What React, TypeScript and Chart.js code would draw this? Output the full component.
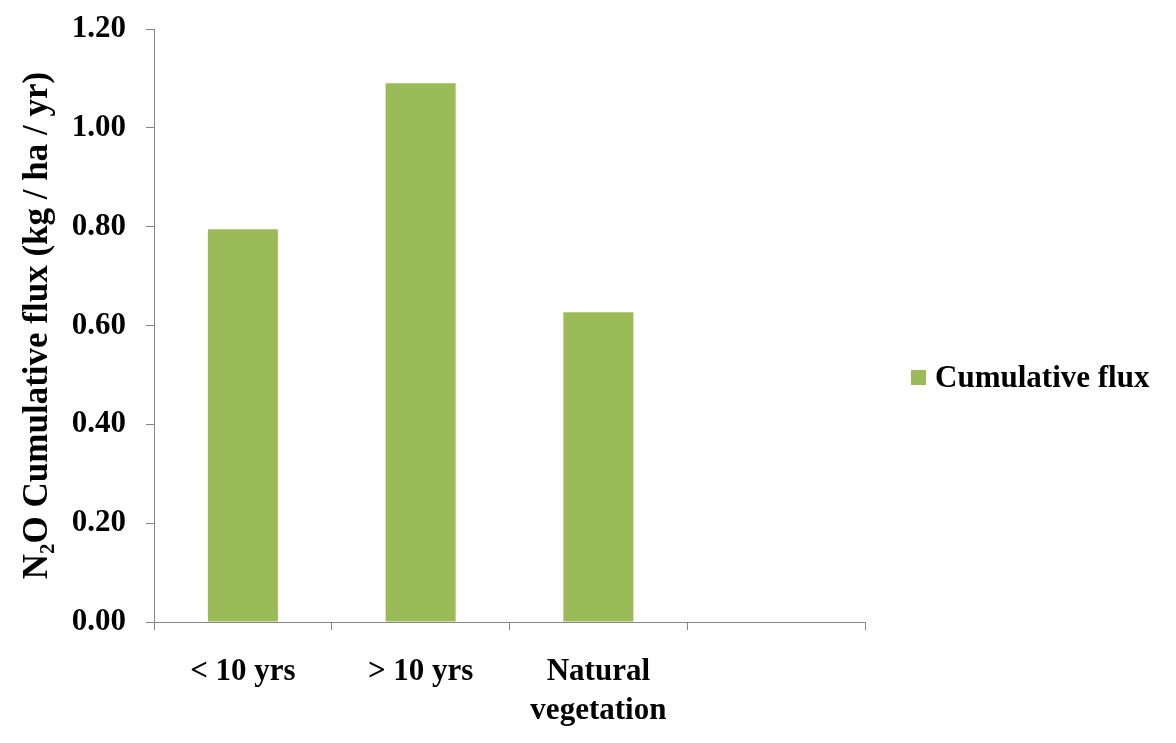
import React, { useEffect, useRef } from "react";
import { Chart, registerables } from "chart.js";

Chart.register(...registerables);

const categories: (string | string[])[] = ["< 10 yrs", "> 10 yrs", ["Natural", "vegetation"], ""];
const cumulativeFlux: (number | null)[] = [0.795, 1.09, 0.627, null];
const seriesLabel = "Cumulative flux";
const yTitle = "N\u2082O Cumulative flux (kg / ha / yr)";
const yMin = 0;
const yMax = 1.2;
const yStep = 0.2;

const FONT = "'Liberation Serif', 'Times New Roman', serif";
const BAR_COLOR = "#9BBB59";
const AXIS_COLOR = "#868686";

const legendPlugin = {
  id: "sideLegend",
  afterDraw(chart: any) {
    const { ctx, chartArea } = chart;
    const ds = chart.data.datasets[0];
    const boxX = chartArea.right + 46;
    const cy = chart.height / 2 + 6;
    ctx.save();
    ctx.fillStyle = ds.backgroundColor;
    ctx.fillRect(boxX, cy - 7.5, 15, 15);
    ctx.fillStyle = "#000";
    ctx.font = `bold 31px ${FONT}`;
    ctx.textBaseline = "middle";
    ctx.textAlign = "left";
    ctx.fillText(ds.label, boxX + 24, cy + 1);
    ctx.restore();
  },
};

export default function App() {
  const ref = useRef<HTMLCanvasElement>(null);
  useEffect(() => {
    if (!ref.current) return;
    const chart = new Chart(ref.current, {
      type: "bar",
      data: {
        labels: categories,
        datasets: [
          {
            label: seriesLabel,
            data: cumulativeFlux,
            backgroundColor: BAR_COLOR,
            borderWidth: 0,
            barPercentage: 0.394,
            categoryPercentage: 1,
          },
        ],
      },
      options: {
        responsive: false,
        animation: false,
        layout: { padding: { left: 13, right: 311, top: 29, bottom: 0 } },
        plugins: {
          legend: { display: false },
          tooltip: { enabled: false },
        },
        scales: {
          x: {
            offset: true,
            grid: {
              offset: true,
              drawOnChartArea: false,
              drawTicks: true,
              tickLength: 8,
              color: AXIS_COLOR,
            },
            border: { display: true, color: AXIS_COLOR, width: 1 },
            ticks: {
              color: "#000",
              font: { family: FONT, size: 31, weight: "bold", lineHeight: 1.25 },
              padding: 23,
              maxRotation: 0,
              autoSkip: false,
            },
            afterFit: (scale: any) => {
              scale.height = 121;
            },
          },
          y: {
            min: yMin,
            max: yMax,
            grid: {
              drawOnChartArea: false,
              drawTicks: true,
              tickLength: 8,
              color: AXIS_COLOR,
            },
            border: { display: true, color: AXIS_COLOR, width: 1 },
            ticks: {
              stepSize: yStep,
              color: "#000",
              font: { family: FONT, size: 31, weight: "bold" },
              padding: 20,
              callback: (v: any) => Number(v).toFixed(2),
            },
            title: {
              display: true,
              text: yTitle,
              color: "#000",
              font: { family: FONT, size: 35, weight: "bold", lineHeight: 1.2 },
              padding: { top: 4, bottom: 4 },
            },
            afterFit: (scale: any) => {
              scale.width = 154 - 13;
              scale.paddingTop = 0;
              scale.paddingBottom = 0;
            },
          },
        },
      },
      plugins: [legendPlugin],
    });
    return () => chart.destroy();
  }, []);
  return (
    <div style={{ position: "absolute", left: 0, top: 0, width: 1176, height: 743, background: "#fff" }}>
      <canvas ref={ref} width={1176} height={743} />
    </div>
  );
}
